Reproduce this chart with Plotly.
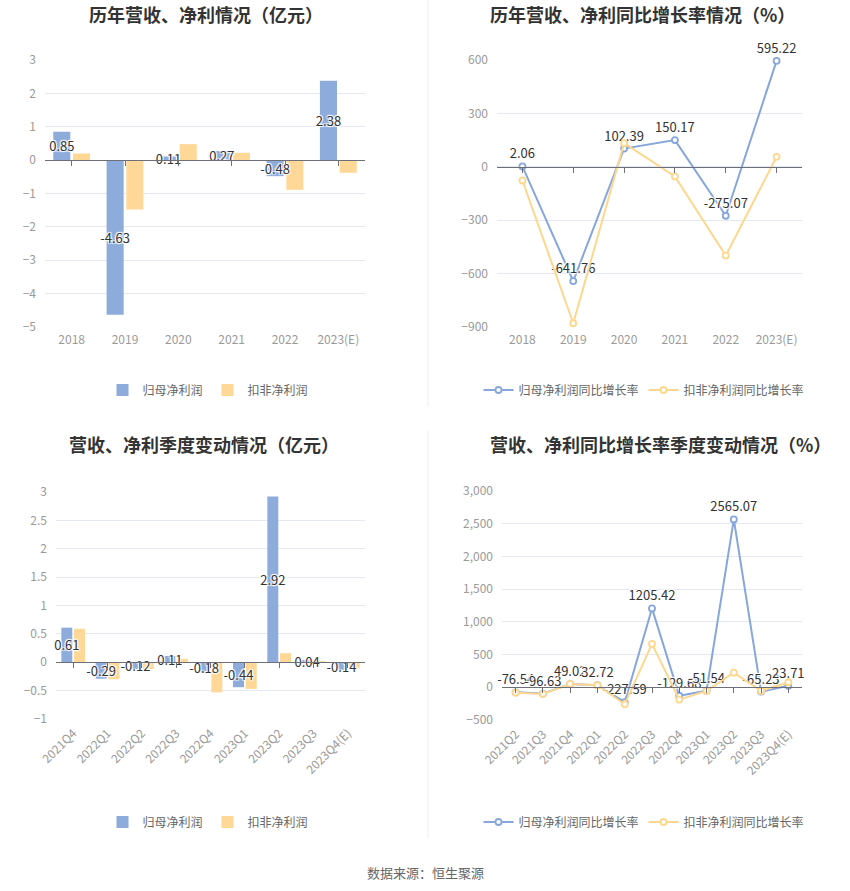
import plotly.graph_objects as go

# ---------------- data ----------------
years = ["2018", "2019", "2020", "2021", "2022", "2023(E)"]
annual_np = [0.85, -4.63, 0.11, 0.27, -0.48, 2.38]          # 归母净利润 (亿元)
annual_dnp = [0.20, -1.48, 0.48, 0.22, -0.89, -0.38]        # 扣非净利润 (亿元)
annual_np_yoy = [2.06, -641.76, 102.39, 150.17, -275.07, 595.22]   # %
annual_dnp_yoy = [-77, -879, 133, -54, -499, 56]                   # %

quarters_bar = ["2021Q4", "2022Q1", "2022Q2", "2022Q3", "2022Q4",
                "2023Q1", "2023Q2", "2023Q3", "2023Q4(E)"]
q_np = [0.61, -0.29, -0.12, 0.11, -0.18, -0.44, 2.92, 0.04, -0.14]
q_dnp = [0.59, -0.30, -0.12, 0.06, -0.53, -0.47, 0.16, 0.01, -0.10]

quarters_line = ["2021Q2", "2021Q3", "2021Q4", "2022Q1", "2022Q2", "2022Q3",
                 "2022Q4", "2023Q1", "2023Q2", "2023Q3", "2023Q4(E)"]
q_np_yoy = [-76.54, -96.63, 49.02, 32.72, -227.59, 1205.42, -129.68,
            -51.54, 2565.07, -65.23, 23.71]
q_dnp_yoy = [-82, -102, 51, 31, -260, 663, -189, -56, 224, -56, 77]

titles = ["历年营收、净利情况（亿元）", "历年营收、净利同比增长率情况（%）",
          "营收、净利季度变动情况（亿元）", "营收、净利同比增长率季度变动情况（%）"]
bar_names = ["归母净利润", "扣非净利润"]
line_names = ["归母净利润同比增长率", "扣非净利润同比增长率"]
source_text = "数据来源：恒生聚源"

# ---------------- style ----------------
W, H = 850, 891
FONT = "Noto Sans CJK SC, Noto Sans, sans-serif"
BLUE_BAR = "#8eacdb"
ORANGE_BAR = "#ffd898"
BLUE_LINE = "#86a6dc"
ORANGE_LINE = "#fed78f"
GRID = "#e3e8f2"
AXIS = "#6e7079"
TICK = "#9a9a9a"
HALO = "1px 1px 1px #fff, -1px -1px 1px #fff, 1px -1px 1px #fff, -1px 1px 1px #fff"
BAR_W = 0.32
BAR_GAP = 0.05


def fx(px):
    return px / W


def fy(py):
    return 1 - py / H


panels = [
    dict(xd=(45, 365), yd=(60, 327), yr=(-5, 3), dt=1, cats=years, ang=0, fmt=""),
    dict(xd=(497, 802), yd=(60, 327), yr=(-900, 600), dt=300, cats=years, ang=0, fmt=""),
    dict(xd=(56, 365), yd=(492, 719), yr=(-1, 3), dt=0.5, cats=quarters_bar, ang=-45, fmt=""),
    dict(xd=(502, 802), yd=(491, 720), yr=(-500, 3000), dt=500, cats=quarters_line, ang=-45, fmt=","),
]

fig = go.Figure()


def fmt2(v):
    return f"{v:.2f}"


def add_bars(cats, s1, s2, xa, ya, leg):
    # orange first so the blue bar labels are drawn on top of it
    fig.add_trace(go.Bar(
        x=cats, y=s2, name=bar_names[1], marker=dict(color=ORANGE_BAR, line=dict(width=0)),
        width=BAR_W, offset=BAR_GAP / 2,
        xaxis=xa, yaxis=ya, legend=leg, legendrank=2, hoverinfo="skip"))
    fig.add_trace(go.Bar(
        x=cats, y=s1, name=bar_names[0], marker=dict(color=BLUE_BAR, line=dict(width=0)),
        width=BAR_W, offset=-BAR_GAP / 2 - BAR_W,
        xaxis=xa, yaxis=ya, legend=leg, legendrank=1,
        text=[fmt2(v) for v in s1], textposition="inside", insidetextanchor="middle",
        textangle=0, constraintext="none", cliponaxis=False,
        textfont=dict(family=FONT, size=13, color="#333", shadow=HALO),
        insidetextfont=dict(family=FONT, size=13, color="#333", shadow=HALO),
        hoverinfo="skip"))


def add_lines(cats, s1, s2, xa, ya, leg):
    fig.add_trace(go.Scatter(
        x=cats, y=s1, name=line_names[0], mode="lines+markers+text",
        line=dict(color=BLUE_LINE, width=2),
        marker=dict(symbol="circle", size=6, color="white", line=dict(color=BLUE_LINE, width=1.8)),
        text=[fmt2(v) for v in s1], textposition="top center",
        textfont=dict(family=FONT, size=13, color="#333", shadow=HALO),
        xaxis=xa, yaxis=ya, legend=leg, cliponaxis=False, hoverinfo="skip"))
    fig.add_trace(go.Scatter(
        x=cats, y=s2, name=line_names[1], mode="lines+markers",
        line=dict(color=ORANGE_LINE, width=2),
        marker=dict(symbol="circle", size=6, color="white", line=dict(color=ORANGE_LINE, width=1.8)),
        xaxis=xa, yaxis=ya, legend=leg, cliponaxis=False, hoverinfo="skip"))


add_bars(years, annual_np, annual_dnp, "x", "y", "legend")
add_lines(years, annual_np_yoy, annual_dnp_yoy, "x2", "y2", "legend2")
add_bars(quarters_bar, q_np, q_dnp, "x3", "y3", "legend3")
add_lines(quarters_line, q_np_yoy, q_dnp_yoy, "x4", "y4", "legend4")

layout = dict(
    width=W, height=H, margin=dict(l=0, r=0, t=0, b=0, autoexpand=False),
    paper_bgcolor="white", plot_bgcolor="white",
    font=dict(family=FONT, size=12, color="#666"),
    barmode="overlay",
    uniformtext=dict(minsize=13, mode="show"),
    annotations=[], shapes=[],
)

for i, p in enumerate(panels):
    n = i + 1
    xs = "" if n == 1 else str(n)
    ov = str(n + 4)
    xdom = [fx(p["xd"][0]), fx(p["xd"][1])]
    ydom = [fy(p["yd"][1]), fy(p["yd"][0])]
    ncat = len(p["cats"])
    layout["xaxis" + xs] = dict(
        domain=xdom, anchor="y" + xs, type="category", categoryarray=p["cats"],
        categoryorder="array", range=[-0.5, ncat - 0.5], automargin=False,
        showline=False, ticks="", showgrid=False, zeroline=False,
        ticklabelstandoff=4,
        tickangle=p["ang"], tickfont=dict(family=FONT, size=12, color=TICK),
        fixedrange=True)
    layout["yaxis" + xs] = dict(
        domain=ydom, anchor="x" + xs, range=list(p["yr"]), dtick=p["dt"],
        tickformat=p["fmt"], showgrid=True, gridcolor=GRID, gridwidth=1,
        zeroline=False, showline=False, ticks="", ticklabelstandoff=8,
        automargin=False,
        tickfont=dict(family=FONT, size=12, color=TICK), fixedrange=True)
    # axis line at zero with tick marks at category centres
    y0, y1 = p["yr"]
    pos = ydom[0] + (0 - y0) / (y1 - y0) * (ydom[1] - ydom[0])
    layout["xaxis" + ov] = dict(
        overlaying="x" + xs, anchor="free", position=pos, type="category",
        categoryarray=p["cats"], categoryorder="array", range=[-0.5, ncat - 0.5],
        showline=True, linecolor=AXIS, linewidth=1, ticks="outside", ticklen=5,
        tickcolor=AXIS, tickwidth=1, showticklabels=False, showgrid=False,
        zeroline=False, fixedrange=True, automargin=False)
    fig.add_trace(go.Scatter(x=p["cats"], y=[None] * ncat, xaxis="x" + ov,
                             yaxis="y" + xs, showlegend=False, hoverinfo="skip",
                             mode="lines"))

# titles
title_pos = [(206, 14), (642, 14), (204, 444), (660, 444)]
for t, (tx, ty) in zip(titles, title_pos):
    layout["annotations"].append(dict(
        text=f"<b>{t}</b>", x=fx(tx), y=fy(ty), xref="paper", yref="paper",
        xanchor="center", yanchor="middle", showarrow=False,
        font=dict(family=FONT, size=18, color="#333")))

layout["annotations"].append(dict(
    text=source_text, x=fx(425), y=fy(872), xref="paper", yref="paper",
    xanchor="center", yanchor="middle", showarrow=False,
    font=dict(family=FONT, size=13, color="#666")))

# legends
leg_pos = [(208, 390), (644, 390), (208, 822), (644, 822)]
for k, (lx, ly) in zip(["legend", "legend2", "legend3", "legend4"], leg_pos):
    layout[k] = dict(orientation="h", x=fx(lx), y=fy(ly), xanchor="center",
                     yanchor="middle", bgcolor="rgba(0,0,0,0)",
                     font=dict(family=FONT, size=12, color="#666"),
                     itemwidth=30, tracegroupgap=0, traceorder="normal")

# divider lines between the columns
layout["shapes"].append(dict(type="line", xref="paper", yref="paper",
                             x0=fx(428), x1=fx(428), y0=fy(0), y1=fy(407),
                             line=dict(color="#eeeeee", width=1)))
layout["shapes"].append(dict(type="line", xref="paper", yref="paper",
                             x0=fx(428), x1=fx(428), y0=fy(431), y1=fy(838),
                             line=dict(color="#eeeeee", width=1)))

fig.update_layout(**layout)
fig.write_html("out.html")
